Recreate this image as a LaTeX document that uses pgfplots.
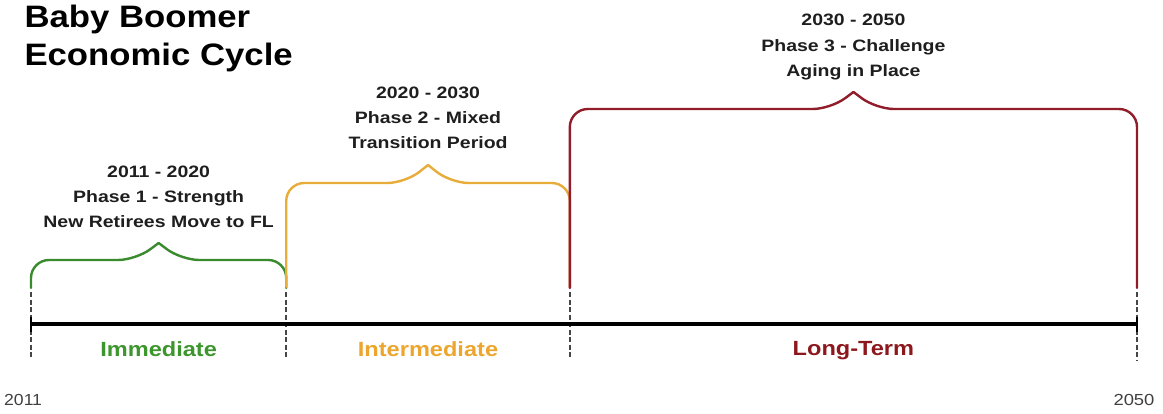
\documentclass[border=0pt]{standalone}
\usepackage{pgfplots}
\pgfplotsset{compat=1.18}
\usepackage{fontspec}
\setmainfont{Liberation Sans}
\definecolor{bgreen}{RGB}{58,138,46}
\definecolor{tgreen}{RGB}{60,150,45}
\definecolor{borange}{RGB}{232,172,58}
\definecolor{torange}{RGB}{236,165,45}
\definecolor{bred}{RGB}{145,28,42}
\definecolor{tred}{RGB}{140,24,30}
\definecolor{txt}{RGB}{30,30,30}
\definecolor{dgray}{RGB}{70,70,70}
\begin{document}
\begin{tikzpicture}
\begin{axis}[
  width=1163pt, height=413pt, scale only axis,
  xmin=2009.9069, xmax=2050.9168, ymin=0, ymax=413,
  hide axis, clip=false,
]
% dashed markers
\addplot[dgray, line width=1.6pt, dash pattern=on 5pt off 2.5pt] coordinates {(2011,121) (2011,56)};
\addplot[dgray, line width=1.6pt, dash pattern=on 5pt off 2.5pt] coordinates {(2020,121) (2020,56)};
\addplot[dgray, line width=1.6pt, dash pattern=on 5pt off 2.5pt] coordinates {(2030,121) (2030,56)};
\addplot[dgray, line width=1.6pt, dash pattern=on 5pt off 2.5pt] coordinates {(2050,121) (2050,53)};
% timeline
\addplot[black, line width=4pt] coordinates {(2011,89) (2050,89)};
\addplot[black, line width=2pt] coordinates {(2011,81) (2011,96)};
\addplot[black, line width=2pt] coordinates {(2050,81) (2050,96)};
% green brace
\addplot[bgreen, line width=2.4pt, rounded corners=18pt, line cap=round] coordinates {(2011,125) (2011,153) (2014.7,153) (2015.5,170)};
\addplot[bgreen, line width=2.4pt, rounded corners=18pt, line cap=round] coordinates {(2015.5,170) (2016.3,153) (2020,153) (2020,125)};
% orange brace
\addplot[borange, line width=2.4pt, rounded corners=18pt, line cap=round] coordinates {(2020,126) (2020,230) (2024.2,230) (2025,248)};
\addplot[borange, line width=2.4pt, rounded corners=18pt, line cap=round] coordinates {(2025,248) (2025.8,230) (2030,230) (2030,126)};
% red brace
\addplot[bred, line width=2.4pt, rounded corners=18pt, line cap=round] coordinates {(2030,125) (2030,304) (2039.2,304) (2040,321)};
\addplot[bred, line width=2.4pt, rounded corners=18pt, line cap=round] coordinates {(2040,321) (2040.8,304) (2050,304) (2050,125)};
% title
\node[anchor=base west, font=\fontsize{31}{36}\selectfont\bfseries] at (axis cs:2010.647,385) {\scalebox{1.12}[1]{Baby Boomer}};
\node[anchor=base west, font=\fontsize{31}{36}\selectfont\bfseries] at (axis cs:2010.647,348) {\scalebox{1.12}[1]{Economic Cycle}};
% phase labels
\tikzset{lab/.style={anchor=base, text=txt, font=\fontsize{16.5}{19}\selectfont\bfseries}}
\node[lab] at (axis cs:2015.5,236) {\scalebox{1.18}[1]{2011 - 2020}};
\node[lab] at (axis cs:2015.5,211) {\scalebox{1.18}[1]{Phase 1 - Strength}};
\node[lab] at (axis cs:2015.5,186) {\scalebox{1.18}[1]{New Retirees Move to FL}};
\node[lab] at (axis cs:2025,315) {\scalebox{1.18}[1]{2020 - 2030}};
\node[lab] at (axis cs:2025,290) {\scalebox{1.18}[1]{Phase 2 - Mixed}};
\node[lab] at (axis cs:2025,265) {\scalebox{1.18}[1]{Transition Period}};
\node[lab] at (axis cs:2040,387) {\scalebox{1.18}[1]{2030 - 2050}};
\node[lab] at (axis cs:2040,362) {\scalebox{1.18}[1]{Phase 3 - Challenge}};
\node[lab] at (axis cs:2040,337) {\scalebox{1.18}[1]{Aging in Place}};
% term labels
\tikzset{term/.style={anchor=base, font=\fontsize{20.5}{24}\selectfont\bfseries}}
\node[term, text=tgreen] at (axis cs:2015.5,57) {\scalebox{1.15}[1]{Immediate}};
\node[term, text=torange] at (axis cs:2025,57) {\scalebox{1.15}[1]{Intermediate}};
\node[term, text=tred] at (axis cs:2040,58) {\scalebox{1.15}[1]{Long-Term}};
% years
\node[anchor=base west, text=txt!85, font=\fontsize{16}{19}\selectfont] at (axis cs:2009.93,8) {\scalebox{1.1}[1]{2011}};
\node[anchor=base east, text=txt!85, font=\fontsize{16}{19}\selectfont] at (axis cs:2050.74,8) {\scalebox{1.15}[1]{2050}};
\end{axis}
\pgfresetboundingbox
\path (current axis.south west) rectangle (current axis.north east);
\end{tikzpicture}
\end{document}
